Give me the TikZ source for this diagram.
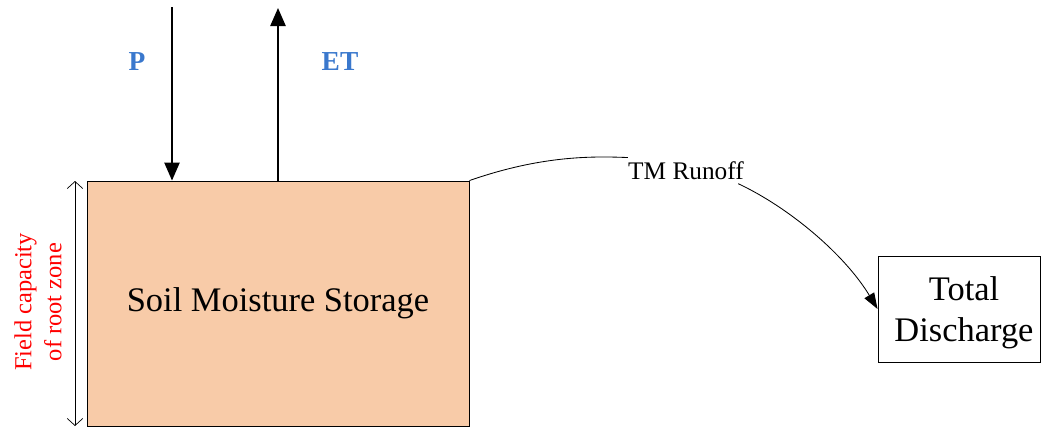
\documentclass[tikz,border=0pt]{standalone}
\usepackage{fontspec}
\setmainfont{Liberation Serif}
\usetikzlibrary{arrows.meta}
\definecolor{peche}{RGB}{248,203,168}
\definecolor{bleuflux}{RGB}{58,120,205}

\begin{document}
\begin{tikzpicture}[x=0.025cm, y=-0.025cm, line width=0.6pt,
    flux/.style={line width=1.3pt, -{Triangle[length=0.45cm, width=0.38cm]}},
    etiquette/.style={text=bleuflux, font=\fontsize{19.5}{23}\selectfont\bfseries}]
  \useasboundingbox (0,0) rectangle (1047,429);
  % Le réservoir du sol et la sortie.
  \node[draw, fill=peche, minimum width=9.55cm, minimum height=6.125cm,
        font=\fontsize{24.5}{29}\selectfont] (sol) at (278,303.5) {Soil Moisture Storage};
  \node[draw, fill=white, minimum width=4.05cm, minimum height=2.65cm] (debit) at (959,309) {};
  \node[align=center, font=\fontsize{24.5}{29.5}\selectfont] (debit texte) at (964,313) {Total\\Discharge};
  % Pluie qui entre, évapotranspiration qui sort.
  \coordinate (pluie) at (172,7);
  \coordinate (evap) at (278,8);
  \draw[flux] (pluie) -- (pluie |- sol.north);
  \draw[flux] (evap |- sol.north) -- (evap);
  \node[etiquette] (p) at (137,62) {P};
  \node[etiquette] (et) at (340,62) {ET};
  % Le ruissellement, en deux morceaux autour de son nom.
  \node[inner sep=0pt, font=\fontsize{18}{21}\selectfont] (ruiss) at (686,171) {TM Runoff};
  \draw (sol.north east) .. controls (540,156) and (590,156) .. ([yshift=0.1cm]ruiss.north west);
  \draw[-{Triangle[length=0.4cm, width=0.28cm]}]
    ([xshift=-0.15cm, yshift=-0.08cm]ruiss.south east) .. controls (790,208) and (845,255) .. (debit.west);
  % La cote de la capacité au champ.
  \coordinate (cote haut) at (75,181);
  \coordinate (cote bas) at (75,426);
  \draw[line width=0.5pt, {Straight Barb[length=5pt, width=11pt]}-{Straight Barb[length=5pt, width=11pt]}]
    (cote haut) -- (cote bas);
  \node[rotate=90, text=red, align=center, inner sep=0pt,
        font=\fontsize{17.4}{21.5}\selectfont] (capacite) at (38,302) {Field capacity\\of root zone};
\end{tikzpicture}
\end{document}
